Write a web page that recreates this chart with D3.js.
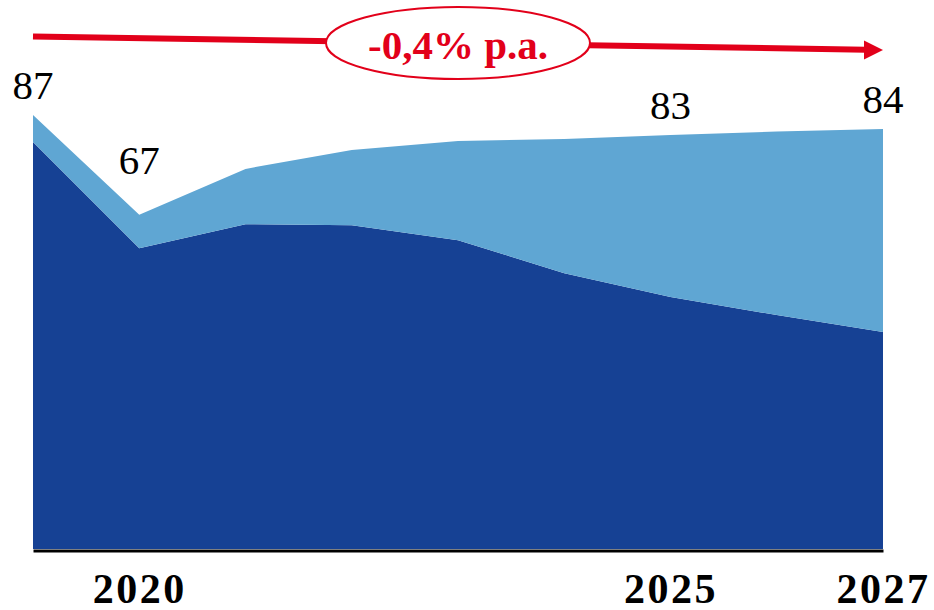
<!DOCTYPE html>
<html>
<head>
<meta charset="utf-8">
<script src="https://cdn.jsdelivr.net/npm/d3@7"></script>
<style>
  body { margin: 0; background: #fff; }
  svg { display: block; }
</style>
</head>
<body>
<div id="chart"></div>
<script>
// Data
const years = [2019, 2020, 2021, 2022, 2023, 2024, 2025, 2026, 2027];
const darkValues = [81.6, 60.3, 65.1, 64.9, 61.9, 55.3, 50.5, 46.9, 43.5];
const lightValues = [5.4, 6.7, 11.1, 15.1, 19.9, 26.9, 32.5, 36.8, 40.7];
const tickYears = [2020, 2025, 2027];
const labelYears = [2019, 2020, 2025, 2027];
const labelTexts = ["87", "67", "83", "84"];
const growthLabel = "-0,4% p.a.";

const width = 934, height = 610;

const svg = d3.select("#chart")
    .append("svg")
    .attr("width", width)
    .attr("height", height);

const x = d3.scalePoint()
    .domain(years)
    .range([33, 883]);

const y = d3.scaleLinear()
    .domain([0, 87])
    .range([549, 115]);

// Build table for the stack
const table = years.map((yr, i) => ({ year: yr, dark: darkValues[i], light: lightValues[i] }));
const stacked = d3.stack().keys(["dark", "light"])(table);

const color = d3.scaleOrdinal()
    .domain(["dark", "light"])
    .range(["#164194", "#5fa6d3"]);

const area = d3.area()
    .x(d => x(d.data.year))
    .y0(d => y(d[0]))
    .y1(d => y(d[1]));

svg.append("g")
    .selectAll("path")
    .data(stacked)
    .enter()
    .append("path")
    .attr("fill", d => color(d.key))
    .attr("d", area);

// x axis: thick black baseline with a few year labels
const axis = svg.append("g")
    .attr("transform", `translate(0,${y(0) + 1.5})`)
    .call(d3.axisBottom(x).tickValues(tickYears).tickSize(0).tickSizeOuter(0));

axis.select(".domain")
    .attr("stroke", "#000")
    .attr("stroke-width", 3);

axis.selectAll("text")
    .attr("y", 52)
    .attr("dy", 0)
    .attr("fill", "#000")
    .style("font-family", "'Liberation Serif', 'Times New Roman', serif")
    .style("font-weight", "bold")
    .style("font-size", "42px")
    .style("letter-spacing", "2.5px");

// Value labels above the totals
const totals = table.map(d => d.dark + d.light);
svg.append("g")
    .selectAll("text")
    .data(labelYears)
    .enter()
    .append("text")
    .attr("x", d => x(d))
    .attr("y", (d, i) => y(totals[years.indexOf(d)]) - (d === 2020 ? 41 : 16))
    .attr("text-anchor", "middle")
    .style("font-family", "'Liberation Serif', 'Times New Roman', serif")
    .style("font-size", "41px")
    .attr("fill", "#000")
    .text((d, i) => labelTexts[i]);

// Growth arrow with the ellipse label
const red = "#e2001a";
const arrow = svg.append("g");

arrow.append("line")
    .attr("x1", 33).attr("y1", 36.5)
    .attr("x2", 866).attr("y2", 49.7)
    .attr("stroke", red)
    .attr("stroke-width", 6);

arrow.append("path")
    .attr("d", "M864,40.5 L883,50 L864,59.5 Z")
    .attr("fill", red);

arrow.append("ellipse")
    .attr("cx", 458).attr("cy", 43)
    .attr("rx", 132).attr("ry", 36)
    .attr("fill", "#fff")
    .attr("stroke", red)
    .attr("stroke-width", 2);

arrow.append("text")
    .attr("x", 458).attr("y", 59)
    .attr("text-anchor", "middle")
    .attr("fill", red)
    .style("font-family", "'Liberation Serif', 'Times New Roman', serif")
    .style("font-weight", "bold")
    .style("font-size", "41px")
    .text(growthLabel);
</script>
</body>
</html>
